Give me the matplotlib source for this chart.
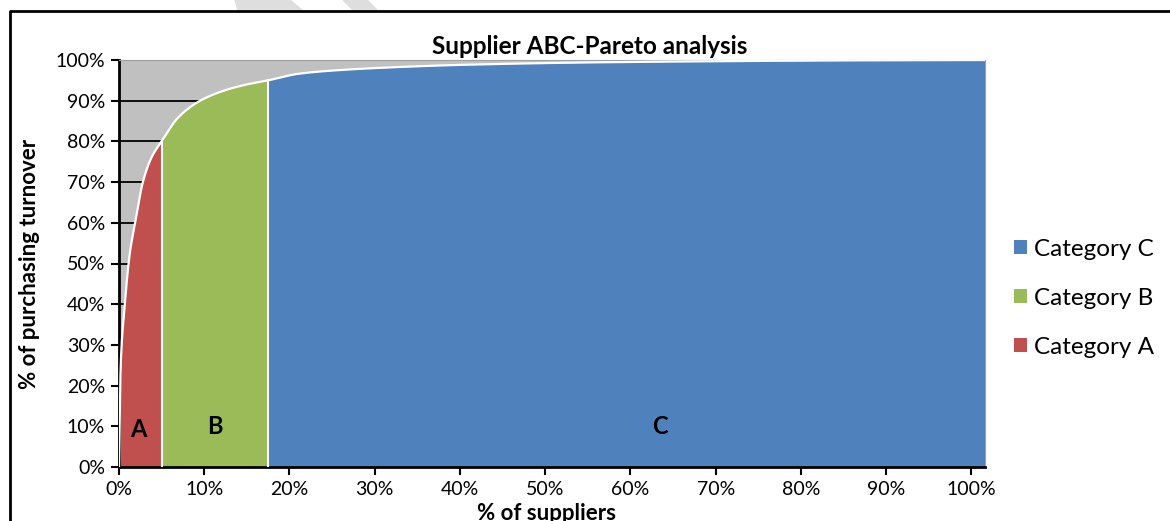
import matplotlib.pyplot as plt
import numpy as np
from matplotlib.patches import Polygon
from matplotlib.ticker import PercentFormatter

plt.rcParams['font.family'] = ['Lato', 'DejaVu Sans']

# cumulative share of purchasing turnover vs share of suppliers (%)
suppliers = [0, 0.2, 0.6, 1.3, 1.9, 2.8, 3.8, 5.0, 7.0, 9.7, 12.5, 15.0, 17.5,
             21.0, 25.0, 32.0, 40.0, 55.0, 70.0, 85.0, 101.6]
turnover = [0, 25, 38, 53, 60, 70, 76, 80, 86, 90.2, 92.6, 94.0, 95.0,
            96.6, 97.4, 98.2, 98.8, 99.4, 99.7, 99.9, 100.0]
category_names = ['Category A', 'Category B', 'Category C']
category_bounds = [(0, 5.0), (5.0, 17.5), (17.5, 101.6)]
category_letters = ['A', 'B', 'C']
letter_pos = [(2.3, 9.3), (11.3, 10), (63.5, 10)]
colors = ['#C0504D', '#9BBB59', '#4F81BD']


def pchip(xk, yk, xs):
    # monotone cubic interpolation (Fritsch-Carlson)
    xk = np.asarray(xk, float)
    yk = np.asarray(yk, float)
    h = np.diff(xk)
    d = np.diff(yk) / h
    m = np.zeros_like(yk)
    for i in range(1, len(xk) - 1):
        if d[i - 1] * d[i] > 0:
            w1 = 2 * h[i] + h[i - 1]
            w2 = h[i] + 2 * h[i - 1]
            m[i] = (w1 + w2) / (w1 / d[i - 1] + w2 / d[i])
    m[0] = d[0]
    m[-1] = d[-1]
    idx = np.clip(np.searchsorted(xk, xs) - 1, 0, len(h) - 1)
    t = (xs - xk[idx]) / h[idx]
    h00 = 2 * t**3 - 3 * t**2 + 1
    h10 = t**3 - 2 * t**2 + t
    h01 = -2 * t**3 + 3 * t**2
    h11 = t**3 - t**2
    return h00 * yk[idx] + h10 * h[idx] * m[idx] + h01 * yk[idx + 1] + h11 * h[idx] * m[idx + 1]


fig = plt.figure(figsize=(11.7, 5.21), dpi=100)

# outer frame and watermark strokes
fig.patches.append(Polygon([(235/1170, 1), (290/1170, 1), (302/1170, 1-10/521), (238/1170, 1-10/521)],
                           closed=True, transform=fig.transFigure, color='#dedede', zorder=0))
fig.patches.append(Polygon([(343/1170, 1), (367/1170, 1), (377/1170, 1-10/521), (353/1170, 1-10/521)],
                           closed=True, transform=fig.transFigure, color='#dedede', zorder=0))
fig.lines.append(plt.Line2D([10/1170, 10/1170, 1], [0, 1-11/521, 1-11/521], transform=fig.transFigure,
                            color='black', lw=2))

ax = fig.add_axes([119/1170, 54/521, 866/1170, 407/521])
ax.set_facecolor('#C0C0C0')

for (lo, hi), name, c in zip(category_bounds, category_names, colors):
    xs = np.linspace(lo, hi, 400)
    ys = pchip(suppliers, turnover, xs)
    ax.fill_between(xs, 0, ys, color=c, label=name, zorder=2, lw=0)
    if hi < suppliers[-1]:
        ax.plot([hi, hi], [0, pchip(suppliers, turnover, np.array([hi]))[0]], color='white', lw=1.5, zorder=3)

xs = np.linspace(0, suppliers[-1], 3000)
ax.plot(xs, pchip(suppliers, turnover, xs), color='white', lw=1.6, zorder=3)

for letter, (px, py) in zip(category_letters, letter_pos):
    ax.text(px, py, letter, ha='center', va='center', fontsize=17, fontweight='bold', zorder=4)

ax.set_xlim(0, suppliers[-1])
ax.set_ylim(0, 100)
ax.set_xticks(np.arange(0, 101, 10))
ax.set_yticks(np.arange(0, 101, 10))
ax.xaxis.set_major_formatter(PercentFormatter(decimals=0))
ax.yaxis.set_major_formatter(PercentFormatter(decimals=0))
ax.grid(axis='y', color='black', lw=1.3, zorder=1)
ax.set_axisbelow(True)
ax.tick_params(direction='out', length=6, width=1.5, labelsize=14, pad=4)
for s in ['left', 'bottom']:
    ax.spines[s].set_linewidth(2)
for s in ['top', 'right']:
    ax.spines[s].set_color('#a0a0a0')

ax.set_title('Supplier ABC-Pareto analysis', fontsize=17.5, fontweight='bold', pad=4, x=0.544)
ax.set_ylabel('% of purchasing turnover', fontsize=16, fontweight='bold', va='center')
ax.yaxis.set_label_coords(-0.103, 0.5)
ax.set_xlabel('% of suppliers', fontsize=16, fontweight='bold', va='center')
ax.xaxis.set_label_coords(0.4935, -0.115)

handles, labels = ax.get_legend_handles_labels()
ax.legend(handles[::-1], labels[::-1], loc='center left', bbox_to_anchor=(1.008, 0.415),
          frameon=False, fontsize=17.5, handlelength=0.55, handleheight=0.55,
          handletextpad=0.3, labelspacing=1.15)

fig.savefig('out.png', dpi=100)
